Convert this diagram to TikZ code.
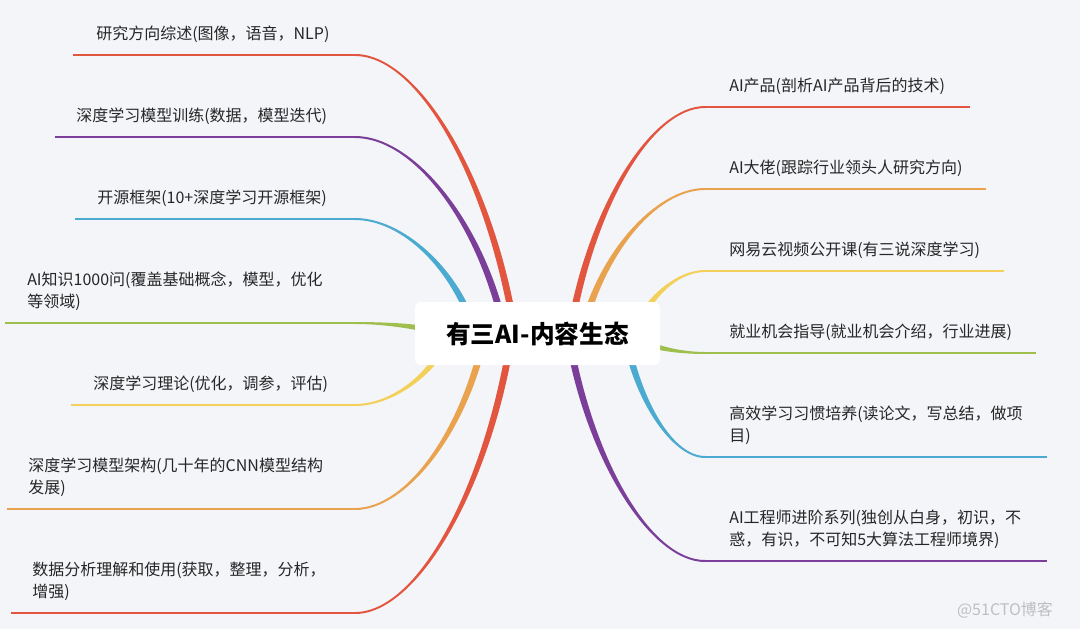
\documentclass[tikz,border=0pt]{standalone}
\usepackage{fontspec}
\setmainfont{Noto Sans CJK SC}
\usetikzlibrary{calc}

\definecolor{bgcol}{HTML}{F4F5F9}
\definecolor{cred}{HTML}{E2553F}
\definecolor{cpurple}{HTML}{7B3F99}
\definecolor{cblue}{HTML}{4BAAD0}
\definecolor{cgreen}{HTML}{9EBE4E}
\definecolor{cyellow}{HTML}{F2D05A}
\definecolor{corange}{HTML}{E9A24D}

% tapered branch: colour, start coordinate, end coordinate
\newcommand{\mmbranch}[3]{%
  \path ($(#2)!0.15!(#3)$) coordinate (ca) ($(#2)!0.55!(#3)$) coordinate (cb)
        ($(#3)!0.4!(#2)$) coordinate (cc);
  \coordinate (c1) at (ca |- cb);
  \coordinate (c2) at (cc |- #3);
  \fill[#1] ($(#2)!2.6pt!90:(c1)$) .. controls ($(c1)!2.6pt!-90:(#2)$) and ($(c2)!0.75pt!90:(#3)$) .. ($(#3)!0.75pt!-90:(c2)$)
    -- ($(#3)!0.75pt!90:(c2)$) .. controls ($(c2)!0.75pt!-90:(#3)$) and ($(c1)!2.6pt!90:(#2)$) .. ($(#2)!2.6pt!-90:(c1)$) -- cycle;
}

\begin{document}
\begin{tikzpicture}[
    x=0.75pt, y=-0.75pt,
    uline/.style={line width=1.5pt},
    lbl/.style={anchor=south west, inner sep=0pt, align=left, text=black!85,
                font=\fontsize{12pt}{16.5pt}\selectfont},
    root/.style={fill=white, rounded corners=4.5pt, minimum width=183.75pt, minimum height=47.25pt,
                 inner sep=0pt, font=\fontsize{18.5pt}{22pt}\selectfont\bfseries},
    wmark/.style={text=black!25, inner sep=0pt, font=\fontsize{12pt}{14pt}\selectfont}
]
\useasboundingbox (0,0) rectangle (1080,629);
\fill[bgcol] (0,0) rectangle (1080,629);

% left side
\coordinate (sL1) at (515,333); \coordinate (eL1) at (355,55);  \coordinate (fL1) at (73,55);
\coordinate (sL2) at (505,333); \coordinate (eL2) at (355,137); \coordinate (fL2) at (55,137);
\coordinate (sL3) at (475,333); \coordinate (eL3) at (355,219); \coordinate (fL3) at (75,219);
\coordinate (sL4) at (440,333); \coordinate (eL4) at (355,323); \coordinate (fL4) at (5,323);
\coordinate (sL5) at (450,333); \coordinate (eL5) at (355,405); \coordinate (fL5) at (71,405);
\coordinate (sL6) at (485,333); \coordinate (eL6) at (355,509); \coordinate (fL6) at (7,509);
\coordinate (sL7) at (512,333); \coordinate (eL7) at (355,613); \coordinate (fL7) at (11,613);

\mmbranch{cred}{sL1}{eL1}     \draw[uline, cred] (eL1) -- (fL1);
\mmbranch{cpurple}{sL2}{eL2}  \draw[uline, cpurple] (eL2) -- (fL2);
\mmbranch{cblue}{sL3}{eL3}    \draw[uline, cblue] (eL3) -- (fL3);
\mmbranch{cgreen}{sL4}{eL4}   \draw[uline, cgreen] (eL4) -- (fL4);
\mmbranch{cyellow}{sL5}{eL5}  \draw[uline, cyellow] (eL5) -- (fL5);
\mmbranch{corange}{sL6}{eL6}  \draw[uline, corange] (eL6) -- (fL6);
\mmbranch{cred}{sL7}{eL7}     \draw[uline, cred] (eL7) -- (fL7);

\node[lbl] (tL1) at (96,43)  {研究方向综述(图像，语音，NLP)};
\node[lbl] (tL2) at (76,125) {深度学习模型训练(数据，模型迭代)};
\node[lbl] (tL3) at (97,207) {开源框架(10+深度学习开源框架)};
\node[lbl] (tL4) at (27,311) {AI知识1000问(覆盖基础概念，模型，优化\\等领域)};
\node[lbl] (tL5) at (93,393) {深度学习理论(优化，调参，评估)};
\node[lbl] (tL6) at (28,497) {深度学习模型架构(几十年的CNN模型结构\\发展)};
\node[lbl] (tL7) at (32,601) {数据分析理解和使用(获取，整理，分析，\\增强)};

% right side
\coordinate (sR1) at (570,333); \coordinate (eR1) at (705,107); \coordinate (fR1) at (970,107);
\coordinate (sR2) at (582,333); \coordinate (eR2) at (705,189); \coordinate (fR2) at (986,189);
\coordinate (sR3) at (635,333); \coordinate (eR3) at (705,271); \coordinate (fR3) at (1004,271);
\coordinate (sR4) at (640,340); \coordinate (eR4) at (705,353); \coordinate (fR4) at (1036,353);
\coordinate (sR5) at (625,333); \coordinate (eR5) at (705,457); \coordinate (fR5) at (1047,457);
\coordinate (sR6) at (568,333); \coordinate (eR6) at (705,561); \coordinate (fR6) at (1047,561);

\mmbranch{cred}{sR1}{eR1}     \draw[uline, cred] (eR1) -- (fR1);
\mmbranch{corange}{sR2}{eR2}  \draw[uline, corange] (eR2) -- (fR2);
\mmbranch{cyellow}{sR3}{eR3}  \draw[uline, cyellow] (eR3) -- (fR3);
\mmbranch{cgreen}{sR4}{eR4}   \draw[uline, cgreen] (eR4) -- (fR4);
\mmbranch{cblue}{sR5}{eR5}    \draw[uline, cblue] (eR5) -- (fR5);
\mmbranch{cpurple}{sR6}{eR6}  \draw[uline, cpurple] (eR6) -- (fR6);

\node[lbl] (tR1) at (729,95)  {AI产品(剖析AI产品背后的技术)};
\node[lbl] (tR2) at (729,177) {AI大佬(跟踪行业领头人研究方向)};
\node[lbl] (tR3) at (729,259) {网易云视频公开课(有三说深度学习)};
\node[lbl] (tR4) at (729,341) {就业机会指导(就业机会介绍，行业进展)};
\node[lbl] (tR5) at (729,445) {高效学习习惯培养(读论文，写总结，做项\\目)};
\node[lbl] (tR6) at (729,549) {AI工程师进阶系列(独创从白身，初识，不\\惑，有识，不可知5大算法工程师境界)};

% centre
\node[root] (root) at (537.5,333.5) {有三AI-内容生态};

\node[wmark] (wm) at (1005,610) {@51CTO博客};
\end{tikzpicture}
\end{document}
